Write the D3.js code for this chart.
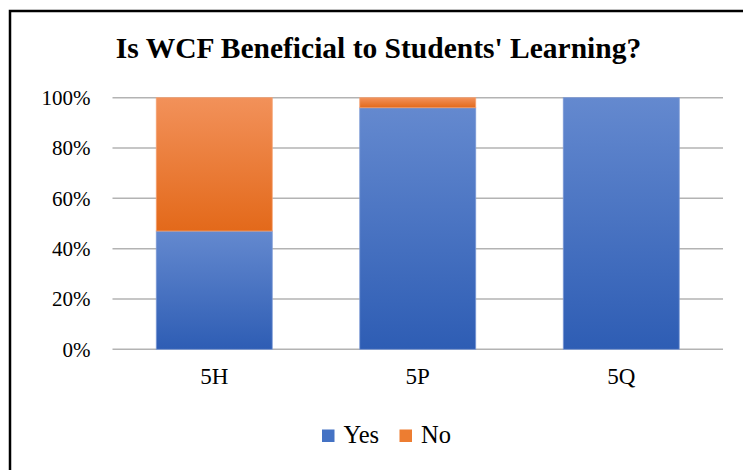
<!DOCTYPE html>
<html>
<head>
<meta charset="utf-8">
<script src="https://cdn.jsdelivr.net/npm/d3@7"></script>
<style>
  body { margin: 0; background: #fff; }
  svg { display: block; }
  svg text { font-family: "Liberation Serif", "Times New Roman", serif; fill: #000; }
</style>
</head>
<body>
<svg width="743" height="470"></svg>
<script>
let svg = d3.select("svg"),
    width = +svg.attr("width"),
    height = +svg.attr("height");

// chart data
let categories = ["5H", "5P", "5Q"];
let yesValues = [0.47, 0.96, 1.00];
let noValues = [0.53, 0.04, 0.00];
let seriesNames = ["Yes", "No"];
let yTicks = [0, 0.2, 0.4, 0.6, 0.8, 1.0];
let titleText = "Is WCF Beneficial to Students' Learning?";

let margin = {left: 112.5, right: 20, top: 97.7, bottom: 120.7};
let serif = "Liberation Serif, serif";

//Gradient colours: light at the top of each rect, dark at the bottom
let seriesColors = [
    {id: "gradYes", top: "#6489cf", bottom: "#2e5db4", legend: "#4472c4", edge: "#7e9bd6"},
    {id: "gradNo", top: "#f2915a", bottom: "#e3691a", legend: "#ed7d31", edge: "#f4a273"}
];

let defs = svg.append("defs");
seriesColors.forEach(c => {
    let g = defs.append("linearGradient")
        .attr("id", c.id)
        .attr("x1", 0).attr("y1", 0)
        .attr("x2", 0).attr("y2", 1);
    g.append("stop").attr("offset", "0%").attr("stop-color", c.top);
    g.append("stop").attr("offset", "100%").attr("stop-color", c.bottom);
});

// outer frame (only top and left edges show in the picture)
svg.append("rect")
    .attr("x", 10)
    .attr("y", 11)
    .attr("width", width + 20)
    .attr("height", height + 20)
    .attr("fill", "none")
    .attr("stroke", "#000")
    .attr("stroke-width", 2.5);

let x = d3.scaleBand()
    .domain(categories)
    .range([margin.left, width - margin.right])
    .paddingInner(0.43)
    .paddingOuter(0.215);

let y = d3.scaleLinear()
    .domain([0, 1])
    .range([height - margin.bottom, margin.top]);

// gridlines
svg.append("g")
    .attr("class", "grid")
    .selectAll("line")
    .data(yTicks).enter().append("line")
        .attr("x1", margin.left)
        .attr("x2", width - margin.right)
        .attr("y1", d => y(d))
        .attr("y2", d => y(d))
        .attr("stroke", "#b3b3b3")
        .attr("stroke-width", 1.5);

// y axis labels
let yAxis = svg.append("g")
    .attr("transform", "translate(" + margin.left + ",0)")
    .attr("font-family", serif)
    .call(d3.axisLeft(y).tickValues(yTicks).tickFormat(d3.format(".0%")).tickSize(0).tickPadding(22));
yAxis.select(".domain").remove();
yAxis.attr("font-family", serif).attr("font-size", 21);
yAxis.selectAll("text")
    .attr("font-family", serif)
    .attr("fill", "#000");

// x axis labels
let xAxis = svg.append("g")
    .attr("transform", "translate(0," + y(0) + ")")
    .call(d3.axisBottom(x).tickSize(0).tickPadding(18));
xAxis.select(".domain").remove();
xAxis.attr("font-family", serif).attr("font-size", 23);
xAxis.selectAll("text")
    .attr("fill", "#000");

// stacked bars
let rows = categories.map((c, i) => ({cat: c, Yes: yesValues[i], No: noValues[i]}));
let stacked = d3.stack().keys(seriesNames)(rows);

svg.append("g")
    .attr("class", "bars")
    .selectAll("g")
    .data(stacked).enter().append("g")
        .each(function(s, si) {
            d3.select(this).selectAll("rect")
                .data(s.filter(d => d[1] - d[0] > 0)).enter().append("rect")
                    .attr("x", d => x(d.data.cat))
                    .attr("width", x.bandwidth())
                    .attr("y", d => y(d[1]))
                    .attr("height", d => y(d[0]) - y(d[1]))
                    .attr("fill", "url(#" + seriesColors[si].id + ")")
                    .attr("stroke", seriesColors[si].edge)
                    .attr("stroke-width", 0.8);
        });

// title
svg.append("text")
    .attr("x", 378.5)
    .attr("y", 57.5)
    .attr("text-anchor", "middle")
    .attr("font-size", 29.5)
    .attr("font-weight", "bold")
    .text(titleText);

// legend
let legendItems = [
    {name: "Yes", color: seriesColors[0].legend, x: 322},
    {name: "No", color: seriesColors[1].legend, x: 399.5}
];
let legend = svg.append("g").attr("class", "legend");
legendItems.forEach(item => {
    legend.append("rect")
        .attr("x", item.x)
        .attr("y", 429.5)
        .attr("width", 12.5)
        .attr("height", 12.5)
        .attr("fill", item.color);
    legend.append("text")
        .attr("x", item.x + 21.5)
        .attr("y", 443)
        .attr("font-size", 24.5)
        .text(item.name);
});
</script>
</body>
</html>
